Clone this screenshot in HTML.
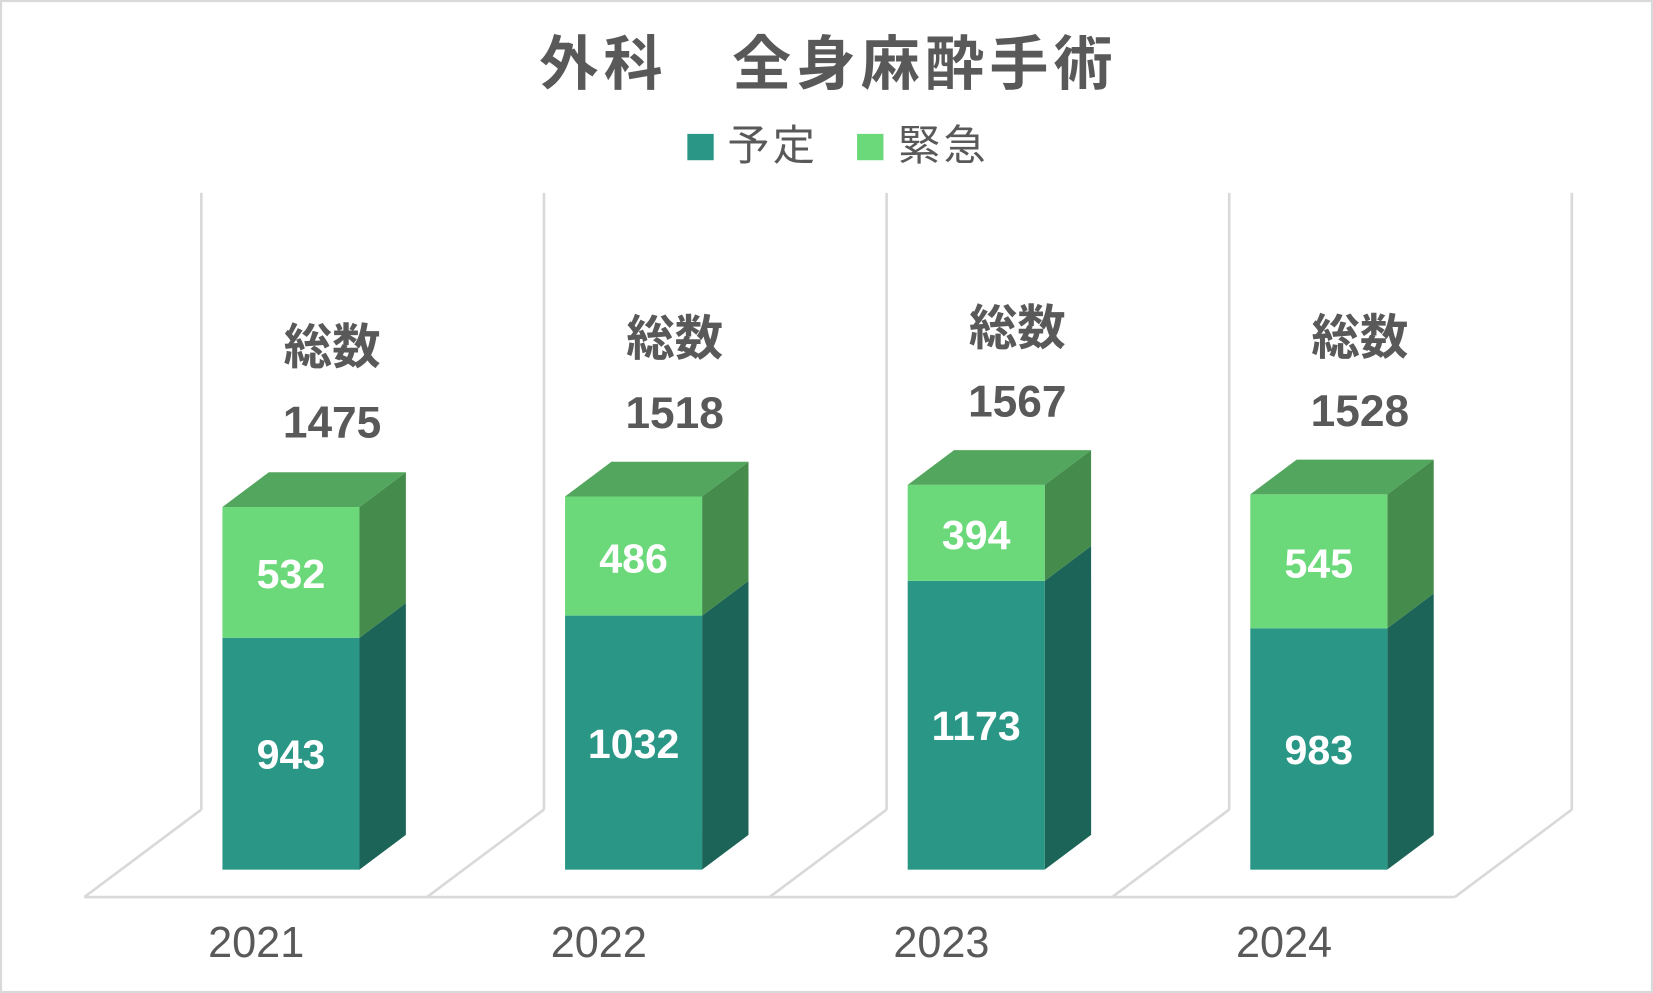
<!DOCTYPE html>
<html><head><meta charset="utf-8"><style>
html,body{margin:0;padding:0;background:#fff;}
svg{display:block;}
text{font-family:"Liberation Sans","Noto Sans CJK JP",sans-serif;}
</style></head><body>
<svg width="1653" height="993" viewBox="0 0 1568 942" preserveAspectRatio="none" xmlns="http://www.w3.org/2000/svg">
<rect x="1" y="1" width="1566" height="940" fill="#fff" stroke="#d9d9d9" stroke-width="2"/>
<text x="786" y="80" text-anchor="middle" font-size="56" font-weight="bold" fill="#595959" letter-spacing="5">外科　全身麻酔手術</text>
<rect x="652" y="127" width="25" height="25" fill="#2a9786"/>
<text x="690" y="152" font-size="40" fill="#595959" letter-spacing="3">予定</text>
<rect x="813" y="127" width="25" height="25" fill="#6bd97a"/>
<text x="852" y="152" font-size="40" fill="#595959" letter-spacing="3">緊急</text>
<g stroke="#d9d9d9" stroke-width="2.5" fill="none">
<line x1="191" y1="183" x2="191" y2="768"/><line x1="516" y1="183" x2="516" y2="768"/><line x1="841" y1="183" x2="841" y2="768"/><line x1="1166" y1="183" x2="1166" y2="768"/><line x1="1491" y1="183" x2="1491" y2="768"/>
<line x1="191" y1="768" x2="80" y2="851"/><line x1="516" y1="768" x2="405" y2="851"/><line x1="841" y1="768" x2="730" y2="851"/><line x1="1166" y1="768" x2="1055" y2="851"/><line x1="1491" y1="768" x2="1380" y2="851"/>
<line x1="80" y1="851" x2="1380" y2="851"/>
</g>
<g>
<polygon points="341,605 385,572 385,792 341,825" fill="#1b6457"/>
<polygon points="341,481 385,448 385,572 341,605" fill="#448b4c"/>
<polygon points="211,481 255,448 385,448 341,481" fill="#52a65d"/>
<rect x="211" y="605" width="130" height="220" fill="#2a9786"/>
<rect x="211" y="481" width="130" height="124" fill="#6bd97a"/>
<polygon points="666,584 710,551 710,792 666,825" fill="#1b6457"/>
<polygon points="666,471 710,438 710,551 666,584" fill="#448b4c"/>
<polygon points="536,471 580,438 710,438 666,471" fill="#52a65d"/>
<rect x="536" y="584" width="130" height="241" fill="#2a9786"/>
<rect x="536" y="471" width="130" height="113" fill="#6bd97a"/>
<polygon points="991,551 1035,518 1035,792 991,825" fill="#1b6457"/>
<polygon points="991,460 1035,427 1035,518 991,551" fill="#448b4c"/>
<polygon points="861,460 905,427 1035,427 991,460" fill="#52a65d"/>
<rect x="861" y="551" width="130" height="274" fill="#2a9786"/>
<rect x="861" y="460" width="130" height="91" fill="#6bd97a"/>
<polygon points="1316,596 1360,563 1360,792 1316,825" fill="#1b6457"/>
<polygon points="1316,469 1360,436 1360,563 1316,596" fill="#448b4c"/>
<polygon points="1186,469 1230,436 1360,436 1316,469" fill="#52a65d"/>
<rect x="1186" y="596" width="130" height="229" fill="#2a9786"/>
<rect x="1186" y="469" width="130" height="127" fill="#6bd97a"/>
</g>
<g font-size="39" font-weight="bold" fill="#fff" text-anchor="middle">
<text x="276" y="558">532</text><text x="276" y="729">943</text>
<text x="601" y="543">486</text><text x="601" y="719">1032</text>
<text x="926" y="521">394</text><text x="926" y="702">1173</text>
<text x="1251" y="548">545</text><text x="1251" y="725">983</text>
</g>
<g font-size="46" font-weight="bold" fill="#595959" text-anchor="middle">
<text x="315" y="345">総数</text>
<text x="640" y="337">総数</text>
<text x="965" y="327">総数</text>
<text x="1290" y="336">総数</text>
</g>
<g font-size="42" font-weight="bold" fill="#595959" text-anchor="middle">
<text x="315" y="415">1475</text>
<text x="640" y="406">1518</text>
<text x="965" y="395">1567</text>
<text x="1290" y="404">1528</text>
</g>
<g font-size="41" fill="#595959" text-anchor="middle">
<text x="243" y="908">2021</text><text x="568" y="908">2022</text><text x="893" y="908">2023</text><text x="1218" y="908">2024</text>
</g>
</svg>
</body></html>
